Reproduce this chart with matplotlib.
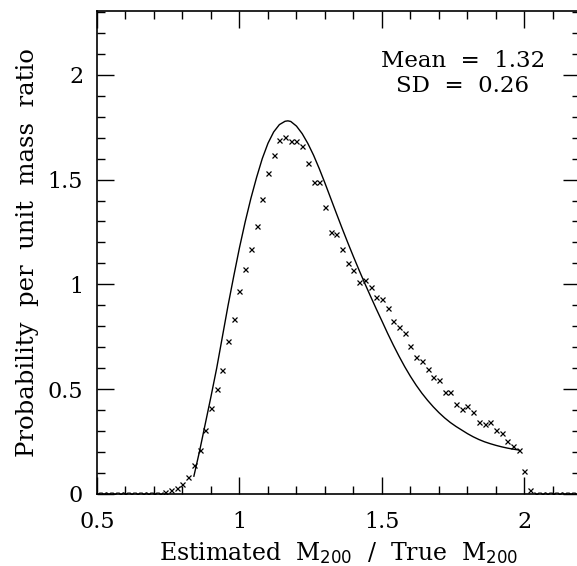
import matplotlib
matplotlib.use("Agg")
import matplotlib.pyplot as plt
from matplotlib.ticker import MultipleLocator

# Histogram points (estimated ratio, probability density)
hist_x = [0.50, 0.52, 0.54, 0.56, 0.58, 0.60, 0.62, 0.64, 0.66, 0.68, 0.70, 0.72,
          0.74, 0.76, 0.78, 0.80, 0.82, 0.84, 0.86, 0.88, 0.90, 0.92, 0.94, 0.96, 0.98,
          1.00, 1.02, 1.04, 1.06, 1.08, 1.10, 1.12, 1.14, 1.16, 1.18, 1.20, 1.22, 1.24,
          1.26, 1.28, 1.30, 1.32, 1.34, 1.36, 1.38, 1.40, 1.42, 1.44, 1.46, 1.48, 1.50,
          1.52, 1.54, 1.56, 1.58, 1.60, 1.62, 1.64, 1.66, 1.68, 1.70, 1.72, 1.74, 1.76,
          1.78, 1.80, 1.82, 1.84, 1.86, 1.88, 1.90, 1.92, 1.94, 1.96, 1.98, 2.00, 2.02,
          2.04, 2.06, 2.08, 2.10, 2.12, 2.14, 2.16, 2.18]
hist_y = [0, 0, 0, 0, 0, 0, 0, 0, 0, 0, 0, 0,
          0.009, 0.017, 0.028, 0.049, 0.080, 0.139, 0.209, 0.307, 0.412, 0.502, 0.593, 0.730, 0.837,
          0.967, 1.074, 1.168, 1.277, 1.408, 1.532, 1.618, 1.691, 1.701, 1.682, 1.682, 1.660, 1.577,
          1.488, 1.488, 1.370, 1.249, 1.239, 1.169, 1.104, 1.067, 1.012, 1.023, 0.988, 0.940, 0.929,
          0.886, 0.827, 0.798, 0.766, 0.708, 0.652, 0.634, 0.596, 0.560, 0.544, 0.488, 0.488, 0.431,
          0.405, 0.419, 0.393, 0.343, 0.333, 0.343, 0.303, 0.292, 0.252, 0.228, 0.209, 0.112, 0.017,
          0, 0, 0, 0, 0, 0, 0, 0]

# Model curve
curve_x = [0.84, 0.86, 0.88, 0.90, 0.92, 0.94, 0.96, 0.98, 1.00, 1.02, 1.04, 1.06, 1.08,
           1.10, 1.12, 1.14, 1.16, 1.17, 1.18, 1.20, 1.22, 1.24, 1.26, 1.28, 1.30, 1.32, 1.34,
           1.36, 1.38, 1.40, 1.42, 1.44, 1.46, 1.48, 1.50, 1.52, 1.54, 1.56, 1.58, 1.60,
           1.62, 1.64, 1.66, 1.68, 1.70, 1.72, 1.74, 1.76, 1.78, 1.80, 1.82, 1.84, 1.86,
           1.88, 1.90, 1.92, 1.94, 1.96, 1.98]
curve_y = [0.085, 0.205, 0.335, 0.465, 0.600, 0.750, 0.900, 1.040, 1.175, 1.298, 1.410, 1.510, 1.600,
           1.673, 1.727, 1.762, 1.778, 1.780, 1.777, 1.755, 1.719, 1.672, 1.616, 1.552, 1.483, 1.411, 1.339,
           1.268, 1.199, 1.132, 1.067, 1.004, 0.943, 0.883, 0.825, 0.766, 0.710, 0.657, 0.607, 0.561,
           0.519, 0.481, 0.447, 0.416, 0.388, 0.363, 0.341, 0.322, 0.305, 0.288, 0.273, 0.260, 0.249,
           0.240, 0.232, 0.225, 0.219, 0.214, 0.210]

x_ticks = [0.5, 1.0, 1.5, 2.0]
x_tick_labels = ["0.5", "1", "1.5", "2"]
y_ticks = [0.0, 0.5, 1.0, 1.5, 2.0]
y_tick_labels = ["0", "0.5", "1", "1.5", "2"]

plt.rcParams['font.family'] = ['DejaVu Serif']
plt.rcParams['mathtext.fontset'] = 'dejavuserif'

fig = plt.figure(figsize=(5.77, 5.66), dpi=100)
ax = fig.add_axes([97 / 577, (566 - 494) / 566, 483 / 577, 483 / 566])

ax.plot(curve_x, curve_y, color='black', lw=1.0)
ax.plot(hist_x, hist_y, linestyle='none', marker='x', color='black',
        markersize=3.6, markeredgewidth=0.9)

ax.set_xlim(0.5, 2.195)
ax.set_ylim(0, 2.304)

ax.set_xticks(x_ticks)
ax.set_xticklabels(x_tick_labels)
ax.set_yticks(y_ticks)
ax.set_yticklabels(y_tick_labels)
ax.xaxis.set_minor_locator(MultipleLocator(0.1))
ax.yaxis.set_minor_locator(MultipleLocator(0.1))

ax.tick_params(which='both', direction='in', top=True, right=True, labelsize=16,
               width=1.0, color='black')
ax.tick_params(which='major', length=12)
ax.tick_params(which='minor', length=6)
ax.tick_params(axis='x', which='major', pad=12)
ax.tick_params(axis='y', which='major', pad=10)

for s in ax.spines.values():
    s.set_linewidth(1.2)
ax.spines['right'].set_visible(False)

ax.set_xlabel(r"Estimated  M$_{\mathsf{200}}$  /  True  M$_{\mathsf{200}}$", fontsize=17, labelpad=5)
ax.set_ylabel("Probability  per  unit  mass  ratio", fontsize=17.5, labelpad=6)

ax.text(1.784, 2.065, "Mean  =  1.32", fontsize=16.5, ha='center', va='center')
ax.text(1.784, 1.946, "SD  =  0.26", fontsize=16.5, ha='center', va='center')

fig.savefig("out.png", dpi=100)
